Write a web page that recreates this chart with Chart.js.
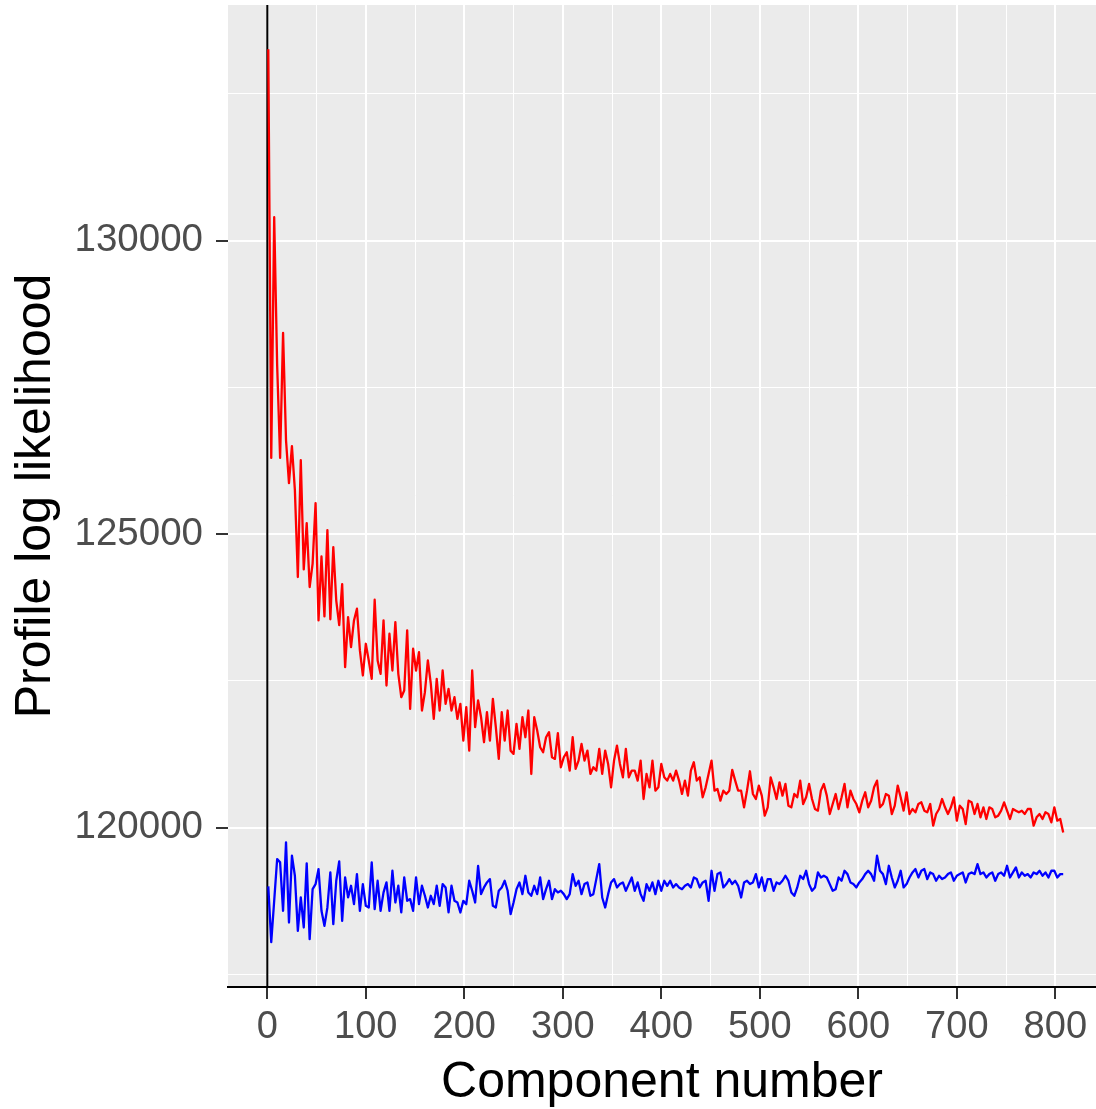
<!DOCTYPE html>
<html>
<head>
<meta charset="utf-8">
<script src="https://cdn.jsdelivr.net/npm/chart.js@4.4.1/dist/chart.umd.min.js"></script>
<style>
  html, body { margin: 0; padding: 0; background: #fff; }
  #wrap { width: 1096px; height: 1109px; }
</style>
</head>
<body>
<div id="wrap"><canvas id="myChart" width="1096" height="1109"></canvas></div>
<script>
// profile log likelihood, every 3rd component (1, 4, 7, ... 808)
const redLikelihood = [
  133260, 126300, 130400, 127880, 126300, 128430, 126600, 125870, 126500, 125750,
  124270, 126260, 124400, 125190, 124100, 124500, 125530, 123530, 124620, 123600,
  125070, 123550, 124780, 123870, 123450, 124150, 122735, 123588, 123076, 123531,
  123730, 123020, 122593, 123133, 122849, 122536, 123884, 122849, 122621, 123531,
  122422, 123304, 122678, 123503, 122621, 122223, 122337, 123361, 122024, 123048,
  122678, 122991, 121996, 122309, 122849, 122451, 121854, 122536, 121996, 122678,
  122110, 122365, 121996, 122223, 121854, 122110, 121484, 122053, 121313, 122678,
  121712, 122167, 121882, 121456, 121967, 121484, 122195, 121712, 121171, 121967,
  121484, 121996, 121313, 121257, 121768, 121342, 121882, 121541, 121996, 120915,
  121882, 121655, 121371, 121285, 121541, 121627, 121200, 121172, 121609, 121029,
  121200, 121285, 120973, 121541, 121001, 121143, 121428, 121143, 121314, 120916,
  121029, 120973, 121342, 120916, 121314, 121086, 120688, 121143, 121399, 121086,
  120859, 121342, 120859, 120973, 120973, 120802, 121143, 120489, 120916, 120688,
  121143, 120631, 120688, 121086, 120859, 120802, 120916, 120802, 120973, 120802,
  120575, 120802, 120546, 120973, 121115, 120802, 120859, 120518, 120688, 120916,
  121143, 120631, 120660, 120461, 120631, 120575, 120631, 120984, 120802, 120631,
  120631, 120347, 120631, 120961, 120574, 120489, 120716, 120546, 120204, 120347,
  120858, 120688, 120489, 120773, 120546, 120745, 120375, 120347, 120574, 120517,
  120802, 120403, 120517, 120745, 120489, 120318, 120290, 120631, 120745, 120546,
  120233, 120403, 120574, 120318, 120517, 120745, 120347, 120631, 120489, 120403,
  120261, 120460, 120603, 120347, 120460, 120688, 120802, 120347, 120403, 120574,
  120546, 120233, 120375, 120717, 120517, 120290, 120603, 120233, 120318, 120262,
  120404, 120432, 120290, 120262, 120404, 120034, 120233, 120318, 120489, 120347,
  120233, 120347, 120517, 120119, 120375, 120318, 120062, 120461, 120432, 120233,
  120404, 120176, 120347, 120148, 120347, 120318, 120176, 120205, 120290, 120432,
  120290, 120148, 120318, 120290, 120262, 120290, 120233, 120318, 120318, 120034,
  120176, 120233, 120148, 120262, 120233, 120091, 120347, 120119, 120150, 119920
];

const blueLikelihood = [
  119000, 118050, 118755, 119466, 119409, 118584, 119750, 118385, 119522, 119181,
  118243, 118812, 118300, 119392, 118101, 118954, 119039, 119295, 118584, 118328,
  118641, 119238, 118357, 119096, 119426, 118413, 119153, 118812, 119011, 118698,
  119210, 118584, 119039, 118669, 118641, 119409, 118613, 119096, 118584, 118897,
  119068, 118584, 119267, 118726, 119011, 118556, 119153, 118755, 118783, 118584,
  119153, 118698, 119011, 118840, 118641, 118840, 118698, 119011, 118669, 119039,
  118982, 118556, 119011, 118754, 118726, 118555, 118754, 118697, 119096, 118925,
  118726, 119351, 118868, 118982, 119067, 119124, 118669, 118641, 118925, 118982,
  119096, 118925, 118527, 118726, 118953, 119067, 118868, 119181, 118897, 118840,
  119010, 118868, 119152, 118783, 118953, 119096, 118783, 118953, 118897, 118925,
  118868, 118783, 118868, 119209, 119010, 119096, 118868, 119039, 119067, 118840,
  118868, 119124, 119380, 118811, 118641, 118868, 119067, 119124, 118982, 119039,
  119067, 118925, 119039, 119152, 118925, 119067, 118868, 118754, 119039, 118925,
  119067, 118868, 119096, 118925, 119096, 119010, 119096, 118982, 119039, 118982,
  118953, 119010, 119039, 118982, 119152, 119124, 118982, 119067, 119096, 118754,
  119266, 118925, 119209, 119238, 118982, 119039, 119124, 119039, 119096, 119010,
  118811, 119067, 119096, 119039, 119067, 119209, 118982, 119152, 118925, 119124,
  119124, 118925, 119067, 119039, 119096, 119181, 119096, 118897, 118840, 118982,
  119181, 119124, 119266, 119039, 118925, 118982, 119238, 119152, 119181, 119152,
  119039, 118925, 118953, 119152, 119096, 119266, 119209, 119067, 119039, 118982,
  119067, 119124, 119209, 119266, 119209, 119096, 119522, 119266, 119209, 119039,
  119351, 119152, 118982, 119096, 119266, 118982, 119039, 119152, 119238, 119295,
  119152, 119266, 119295, 119124, 119238, 119209, 119096, 119181, 119124, 119152,
  119209, 119238, 119096, 119181, 119209, 119238, 119067, 119209, 119238, 119209,
  119380, 119209, 119238, 119152, 119209, 119238, 119096, 119209, 119238, 119181,
  119351, 119152, 119238, 119323, 119152, 119238, 119181, 119209, 119152, 119238,
  119209, 119266, 119181, 119238, 119152, 119266, 119266, 119152, 119209, 119209
];

const componentNumber = redLikelihood.map((_, i) => 1 + 3 * i);

const xTicks = [0, 50, 100, 150, 200, 250, 300, 350, 400, 450, 500, 550, 600, 650, 700, 750, 800];
const xLabelled = [0, 100, 200, 300, 400, 500, 600, 700, 800];
const yTicks = [117500, 120000, 122500, 125000, 127500, 130000, 132500];
const yLabelled = [120000, 125000, 130000];

const xRange = [-39.9, 841.3];
const yRange = [117286, 134015];

const fontFamily = '"Liberation Sans", Arial, Helvetica, sans-serif';

const panelBackground = {
  id: 'panelBackground',
  beforeDraw(chart) {
    const { ctx, chartArea: a } = chart;
    ctx.save();
    ctx.fillStyle = '#ebebeb';
    ctx.fillRect(a.left, a.top, a.right - a.left, a.bottom - a.top);
    ctx.restore();
  }
};

const toPoints = (vals) => vals.map((v, i) => ({ x: componentNumber[i], y: v }));

new Chart(document.getElementById('myChart'), {
  type: 'line',
  data: {
    datasets: [
      {
        label: 'red',
        data: toPoints(redLikelihood),
        borderColor: '#ff0000',
        borderWidth: 2.3,
        borderJoinStyle: 'round',
        pointRadius: 0,
        tension: 0
      },
      {
        label: 'blue',
        data: toPoints(blueLikelihood),
        borderColor: '#0000ff',
        borderWidth: 2.3,
        borderJoinStyle: 'round',
        pointRadius: 0,
        tension: 0
      },
      {
        label: 'zero',
        data: [{ x: 0, y: yRange[0] }, { x: 0, y: yRange[1] }],
        borderColor: '#000000',
        borderWidth: 2,
        pointRadius: 0
      }
    ]
  },
  options: {
    responsive: false,
    animation: false,
    devicePixelRatio: 1,
    layout: { padding: { top: 5, left: 0, right: 0, bottom: 0 } },
    plugins: {
      legend: { display: false },
      tooltip: { enabled: false }
    },
    scales: {
      x: {
        type: 'linear',
        min: xRange[0],
        max: xRange[1],
        afterBuildTicks: (axis) => { axis.ticks = xTicks.map(v => ({ value: v })); },
        afterFit: (s) => { s.height = 122; s.paddingLeft = 0; s.paddingRight = 0; },
        ticks: {
          autoSkip: false,
          maxRotation: 0,
          padding: 6,
          color: '#4d4d4d',
          font: { family: fontFamily, size: 38 },
          callback: (v) => xLabelled.includes(v) ? String(v) : ''
        },
        grid: {
          color: '#ffffff',
          lineWidth: (ctx) => (ctx.tick && xLabelled.includes(ctx.tick.value)) ? 2 : 1,
          tickColor: (ctx) => (ctx.tick && xLabelled.includes(ctx.tick.value)) ? '#333333' : 'rgba(0,0,0,0)',
          tickWidth: 2,
          tickLength: 12
        },
        border: { display: true, color: '#000000', width: 2 },
        title: {
          display: true,
          text: 'Component number',
          color: '#000000',
          font: { family: fontFamily, size: 50, lineHeight: 1 },
          padding: { top: 0, bottom: 1 }
        }
      },
      y: {
        type: 'linear',
        min: yRange[0],
        max: yRange[1],
        afterBuildTicks: (axis) => { axis.ticks = yTicks.map(v => ({ value: v })); },
        afterFit: (s) => { s.width = 228; s.paddingTop = 0; s.paddingBottom = 0; },
        ticks: {
          autoSkip: false,
          padding: 13,
          color: '#4d4d4d',
          font: { family: fontFamily, size: 38.5 },
          callback: (v) => yLabelled.includes(v) ? String(v) : ''
        },
        grid: {
          color: '#ffffff',
          lineWidth: (ctx) => (ctx.tick && yLabelled.includes(ctx.tick.value)) ? 2 : 1,
          tickColor: (ctx) => (ctx.tick && yLabelled.includes(ctx.tick.value)) ? '#333333' : 'rgba(0,0,0,0)',
          tickWidth: 2,
          tickLength: 12
        },
        border: { display: false },
        title: {
          display: true,
          text: 'Profile log likelihood',
          color: '#000000',
          font: { family: fontFamily, size: 50, lineHeight: 1 },
          padding: { top: 11, bottom: 0 }
        }
      }
    }
  },
  plugins: [panelBackground]
});
</script>
</body>
</html>
